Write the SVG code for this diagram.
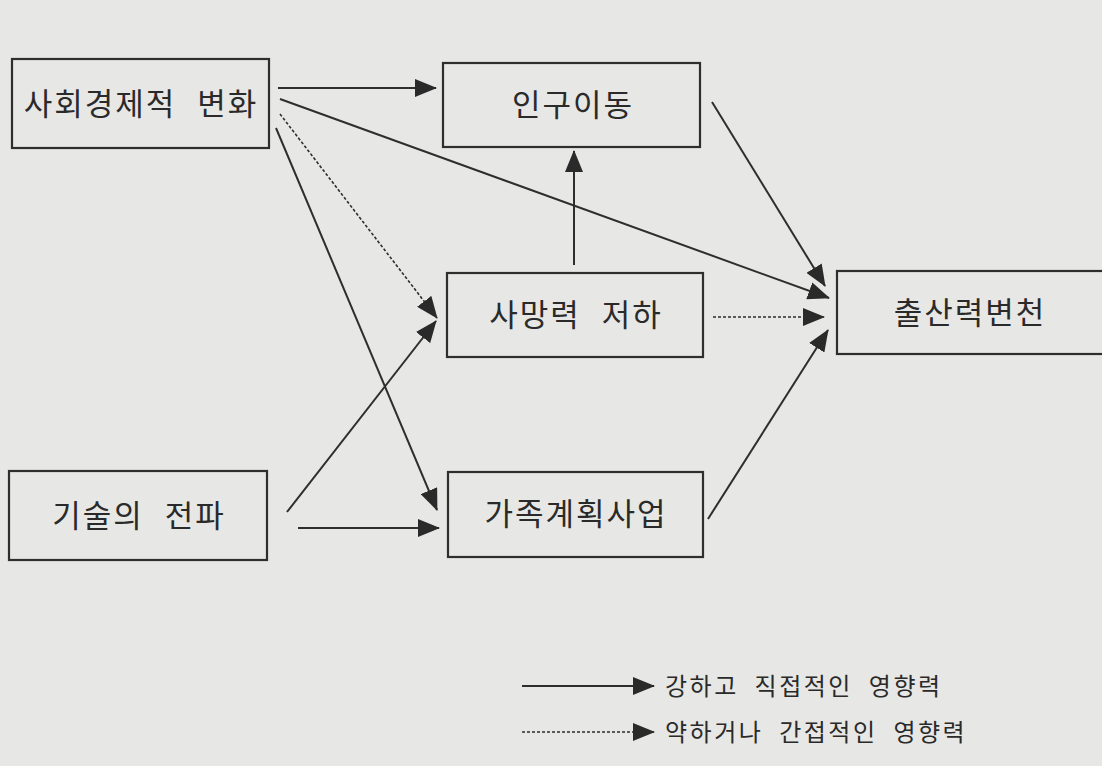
<svg xmlns="http://www.w3.org/2000/svg" width="1102" height="766" viewBox="0 0 1102 766">
<style>
.box{fill:none;stroke:#2e2e2e;stroke-width:2.2}
.lbl{font-family:"Noto Sans CJK KR","Noto Sans",sans-serif;font-size:31px;fill:#2a2a2a;text-anchor:middle;letter-spacing:2px;word-spacing:12px}
.leg{font-family:"Noto Sans CJK KR","Noto Sans",sans-serif;font-size:24px;fill:#2a2a2a;letter-spacing:2.5px;word-spacing:8px}
.s{stroke:#2e2e2e;stroke-width:2;fill:none;marker-end:url(#ah)}
.d{stroke:#2e2e2e;stroke-width:1.6;fill:none;stroke-dasharray:3 2;marker-end:url(#ah)}
</style>
<defs>
<marker id="ah" markerUnits="userSpaceOnUse" markerWidth="22" markerHeight="18" refX="21" refY="9" orient="auto">
<path d="M0,0 L22,9 L0,18 Z" fill="#2a2a2a"/>
</marker>
</defs>
<rect width="1102" height="766" fill="#e7e7e5"/>
<g id="n-socio"><rect class="box" x="12" y="59" width="257" height="89"/><text class="lbl" x="141" y="115">사회경제적 변화</text></g>
<g id="n-migration"><rect class="box" x="443" y="63" width="257" height="84"/><text class="lbl" x="573" y="116">인구이동</text></g>
<g id="n-mortality"><rect class="box" x="447" y="273" width="256" height="84"/><text class="lbl" x="576" y="326">사망력 저하</text></g>
<g id="n-fertility"><rect class="box" x="837" y="271" width="270" height="83"/><text class="lbl" x="970" y="324">출산력변천</text></g>
<g id="n-tech"><rect class="box" x="9" y="471" width="258" height="89"/><text class="lbl" x="139" y="527">기술의 전파</text></g>
<g id="n-family"><rect class="box" x="448" y="472" width="255" height="85"/><text class="lbl" x="576" y="525">가족계획사업</text></g>
<g id="connectors">
<line class="s" x1="278" y1="88" x2="436" y2="88"/>
<line class="s" x1="280" y1="99" x2="829" y2="298"/>
<line class="d" x1="280" y1="114" x2="437" y2="318"/>
<line class="s" x1="276" y1="128" x2="437" y2="510"/>
<line class="s" x1="574" y1="265" x2="574" y2="151"/>
<line class="d" x1="713" y1="317" x2="824" y2="317"/>
<line class="s" x1="712" y1="102" x2="825" y2="286"/>
<line class="s" x1="287" y1="512" x2="436" y2="321"/>
<line class="s" x1="298" y1="528" x2="439" y2="528"/>
<line class="s" x1="708" y1="519" x2="828" y2="330"/>
</g>
<g id="legend">
<line class="s" x1="522" y1="686" x2="654" y2="686"/>
<text class="leg" x="665" y="695">강하고 직접적인 영향력</text>
<line class="d" x1="522" y1="732" x2="654" y2="732"/>
<text class="leg" x="665" y="741">약하거나 간접적인 영향력</text>
</g>
</svg>
